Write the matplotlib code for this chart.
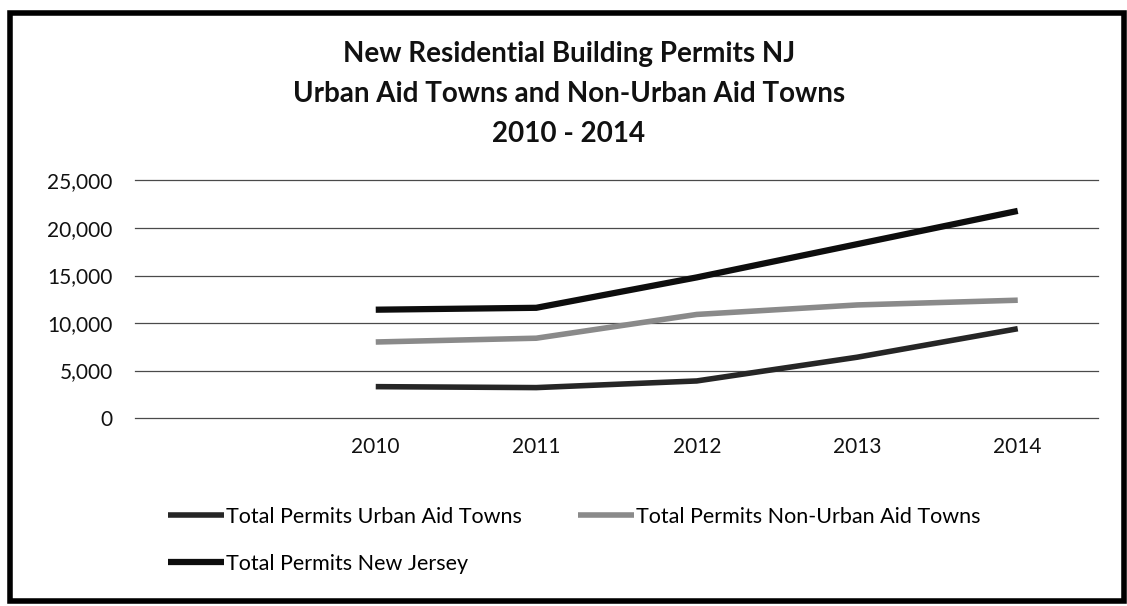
import matplotlib
matplotlib.use('Agg')
import matplotlib.pyplot as plt
from matplotlib.patches import Rectangle
import numpy as np

plt.rcParams['font.family'] = ['Lato', 'DejaVu Sans']

# categories on the x axis (first slot is empty in the original)
categories = ['', '2010', '2011', '2012', '2013', '2014']
urban = [3300, 3200, 3900, 6400, 9400]
non_urban = [8000, 8400, 10900, 11900, 12400]
new_jersey = [11400, 11600, 14800, 18300, 21800]
y_ticks = [0, 5000, 10000, 15000, 20000, 25000]

W, H = 1127, 606
fig = plt.figure(figsize=(W / 100, H / 100), dpi=100)
fig.patch.set_facecolor('white')

ax = fig.add_axes([135 / W, 1 - 418 / H, 963 / W, (418 - 180.5) / H])
x = np.arange(1, len(categories))

l_urban, = ax.plot(x, urban, color='#262626', lw=4, solid_capstyle='butt')
l_non, = ax.plot(x, non_urban, color='#8a8a8a', lw=4, solid_capstyle='butt')
l_nj, = ax.plot(x, new_jersey, color='#0d0d0d', lw=4.5, solid_capstyle='butt')

ax.set_xlim(-0.5, len(categories) - 0.5)
ax.set_ylim(0, 25000)
ax.set_xticks(np.arange(len(categories)))
ax.set_xticklabels(categories)
ax.set_yticks(y_ticks)
ax.set_yticklabels([f'{v:,}' for v in y_ticks])
ax.tick_params(axis='both', length=0, labelsize=15, colors='#111111')
ax.tick_params(axis='y', pad=16)
ax.tick_params(axis='x', pad=14)
ax.grid(axis='y', color='#4a4a4a', lw=0.9)
for gl in ax.get_ygridlines():
    gl.set_clip_on(False)
ax.set_axisbelow(True)
for s in ax.spines.values():
    s.set_visible(False)

# title, three lines
title_lines = ['New Residential Building Permits NJ',
               'Urban Aid Towns and Non-Urban Aid Towns',
               '2010 - 2014']
for line, base in zip(title_lines, [62, 102, 142]):
    fig.text(569 / W, 1 - base / H, line, ha='center', va='baseline',
             fontsize=20, fontweight='bold', color='#111111')

# legend: row 1 urban / non-urban, row 2 new jersey
fig.legend([l_urban, l_nj, l_non],
           ['Total Permits Urban Aid Towns', 'Total Permits New Jersey',
            'Total Permits Non-Urban Aid Towns'],
           ncol=2, loc='upper left', bbox_to_anchor=(168 / W, 1 - 507 / H),
           frameon=False, fontsize=15.5, handlelength=2.6, handletextpad=0.1,
           columnspacing=2.6, labelspacing=1.25, borderpad=0, borderaxespad=0)

# outer chart frame
fig.add_artist(Rectangle((10 / W, 1 - 601 / H), 1114 / W, 588 / H,
                         transform=fig.transFigure, fill=False,
                         edgecolor='black', lw=4))

fig.savefig('out.png', dpi=100)
